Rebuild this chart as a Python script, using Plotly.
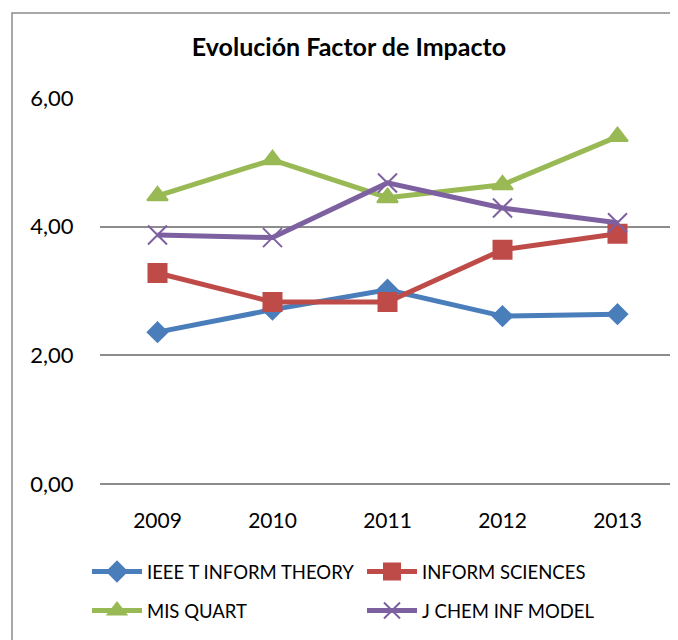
import plotly.graph_objects as go

years = ["2009", "2010", "2011", "2012", "2013"]
ieee = [2.36, 2.71, 3.02, 2.61, 2.64]
inform = [3.28, 2.83, 2.83, 3.64, 3.89]
misq = [4.48, 5.04, 4.45, 4.65, 5.40]
jchem = [3.87, 3.83, 4.68, 4.29, 4.06]
y_ticks = [0, 2, 4, 6]

W, H = 678, 640
OFF = 8  # page body margin
L, R, T, B = 100 - OFF, 19 - OFF, 98 - OFF, 156 + OFF
pw, ph = W - L - R, H - T - B

series = [
    ("IEEE T INFORM THEORY", ieee, "#4A7EBB", "diamond", 15, "legend"),
    ("INFORM SCIENCES", inform, "#BE4B48", "square", 18, "legend"),
    ("MIS QUART", misq, "#98B954", "triangle-up", 18, "legend2"),
    ("J CHEM INF MODEL", jchem, "#7D60A0", "x-thin-open", 19, "legend2"),
]

fig = go.Figure()
for name, vals, col, sym, sz, lg in series:
    fig.add_trace(go.Scatter(
        x=years, y=vals, name=name, mode="lines+markers",
        line=dict(color=col, width=5),
        marker=dict(symbol=sym, size=sz, color=col,
                    line=dict(color=col, width=2)),
        legend=lg,
    ))

font = "Lato, 'Open Sans', sans-serif"
leg_common = dict(orientation="h", xref="container", yref="container",
                  x=(87 - OFF) / W, xanchor="left", yanchor="middle",
                  entrywidth=210, entrywidthmode="pixels",
                  font=dict(size=18.5, family=font), itemwidth=50,
                  bgcolor="rgba(0,0,0,0)")
fig.update_layout(
    width=W, height=H,
    margin=dict(l=L, r=R, t=T, b=B, autoexpand=False),
    paper_bgcolor="white", plot_bgcolor="white",
    separators=",.",
    font=dict(family=font, size=20, color="black"),
    title=dict(text="<b>Evolución Factor de Impacto</b>", xref="container", yref="container",
               x=(349 - OFF) / W, xanchor="center",
               y=1 - (47 - OFF) / H, yanchor="middle", font=dict(size=25, family=font)),
    showlegend=True,
    legend=dict(**leg_common, y=1 - (572 - OFF) / H),
    legend2=dict(**leg_common, y=1 - (611 - OFF) / H),
    hovermode=False,
)
fig.update_xaxes(type="category", range=[-0.5, 4.5], showgrid=False, showline=False,
                 zeroline=False, ticks="", ticklabelstandoff=22,
                 tickfont=dict(size=21))
fig.update_yaxes(range=[0, 6], tickvals=y_ticks, tickformat=".2f",
                 showgrid=True, gridcolor="#8C8C8C", gridwidth=1.5,
                 zeroline=True, zerolinecolor="#8C8C8C", zerolinewidth=1.5,
                 showline=False, ticks="outside", ticklen=21,
                 tickcolor="rgba(0,0,0,0)",
                 tickfont=dict(size=22))

# chart frame
fig.add_shape(type="rect", xref="paper", yref="paper",
              x0=(12 - OFF - L) / pw, x1=(W + 5 - L) / pw,
              y0=(H - B - (H + 5)) / ph, y1=(H - B - (13 - OFF)) / ph,
              line=dict(color="#8C8C8C", width=1.5), fillcolor="rgba(0,0,0,0)",
              layer="below")

fig.write_html("out.html")
